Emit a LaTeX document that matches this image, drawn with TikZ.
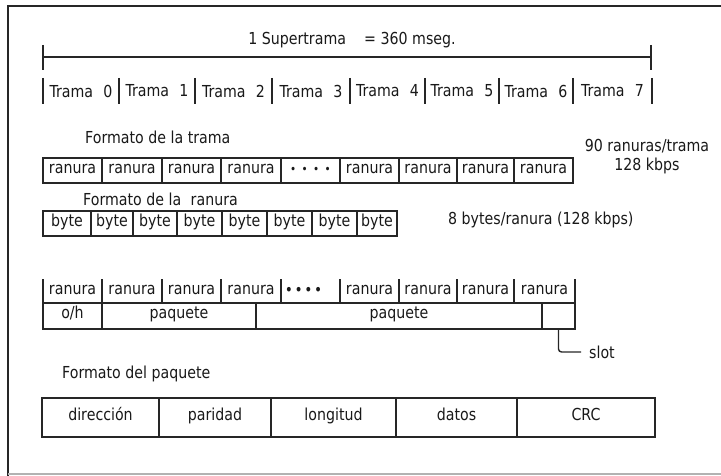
\documentclass[tikz,border=0pt]{standalone}
\usepackage{fontspec}
\setmainfont{DejaVu Sans}[FakeStretch=0.86]
\begin{document}
\begin{tikzpicture}[x=1pt,y=-1pt,
  txt/.style={font=\fontsize{16.5}{18}\selectfont, inner sep=0pt, text=black!90},
  cellbox/.style={txt, draw=black!85, line width=1.4pt, text height=0.72em, text depth=0.2em},
  rule/.style={draw=black!85, line width=1.4pt},
  tick/.style={draw=black!85, line width=1.9pt}]
\useasboundingbox (0,0) rectangle (721,476);
% frame
\draw[line width=2.6pt, black!85] (8,476) -- (8,6) -- (721,6);
\draw[line width=1.2pt, black!30] (8,474) -- (721,474);

% supertrama
\node[txt] (super) at (352,40) {1 Supertrama\hspace{1.1em}= 360 mseg.};
\coordinate (sL) at (43,57);
\coordinate (sR) at (651,57);
\draw[rule] (sL) -- (sR);
\draw[tick] (43,45) -- (43,70);
\draw[tick] (651,45) -- (651,70);

% tramas
\foreach \x in {43,119,195,272,350,425,499,573,652} \draw[tick] (\x,78) -- (\x,104);
\foreach \a/\b/\t [count=\i from 0] in {43/119/0,119/195/1,195/272/2,272/350/3,350/425/4,425/499/5,499/573/6,573/652/7}
  \node[txt] (t\i) at ({(\a+\b)/2},91) {Trama\hspace{0.35em} \t};

% formato de la trama
\node[txt, anchor=west] (fmtT) at (85,137) {Formato de la trama};
\node[txt] (rpt) at (647,146) {90 ranuras/trama};
\node[txt] (kb1) at (647,166) {128 kbps};
\foreach \a/\b/\t [count=\i] in {43/102/ranura,102/162/ranura,162/221/ranura,221/281/ranura,281/340/{{\fontsize{12}{12}\selectfont •\hspace{0.45em}•\hspace{0.45em}•\hspace{0.45em}•}},340/399/ranura,399/457/ranura,457/514/ranura,514/573/ranura}
  \node[cellbox, minimum width={\b-\a}, minimum height=25] (ra\i) at ({(\a+\b)/2},170.5) {\t};

% formato de la ranura
\node[txt, anchor=west] (fmtR) at (83,199) {Formato de la\hspace{0.3em} ranura};
\foreach \a/\b [count=\i] in {43/91,91/133,133/177,177/222,222/267,267/312,312/357,357/397}
  \node[cellbox, minimum width={\b-\a}, minimum height=25] (by\i) at ({(\a+\b)/2},223.5) {byte};
\node[txt, anchor=west] (bpr) at (448,220) {8 bytes/ranura (128 kbps)};

% third group
\foreach \x in {43,102,162,221,281,340,399,457,514,575} \draw[rule] (\x,279) -- (\x,303);
\foreach \a/\b/\t [count=\i] in {43/102/ranura,102/162/ranura,162/221/ranura,221/281/ranura,281/326/{{\fontsize{13}{13}\selectfont\bfseries •\hspace{0.2em}•\hspace{0.2em}•\hspace{0.2em}•}},340/399/ranura,399/457/ranura,457/514/ranura,514/575/ranura}
  \node[txt, text height=0.72em, text depth=0.2em] (rb\i) at ({(\a+\b)/2},292) {\t};
\node[cellbox, minimum width=59, minimum height=26] (oh) at (72.5,316) {o/h};
\node[cellbox, minimum width=154, minimum height=26] (pq1) at (179,316) {paquete};
\node[cellbox, minimum width=286, minimum height=26] (pq2) at (399,316) {paquete};
\node[cellbox, minimum width=33, minimum height=26] (slotcell) at (558.5,316) {};
\node[txt, anchor=west] (slotlbl) at (589,352) {slot};
\draw[rule, rounded corners=3pt] (slotcell.south) |- ([xshift=-8pt]slotlbl.west);

% formato del paquete
\node[txt, anchor=west] (fmtP) at (62,374) {Formato del paquete};
\foreach \a/\b/\t [count=\i] in {42/159/dirección,159/271/paridad,271/396/longitud,396/517/datos,517/655/CRC}
  \node[cellbox, minimum width={\b-\a}, minimum height=39] (pk\i) at ({(\a+\b)/2},417.5) {\t};
\end{tikzpicture}
\end{document}
